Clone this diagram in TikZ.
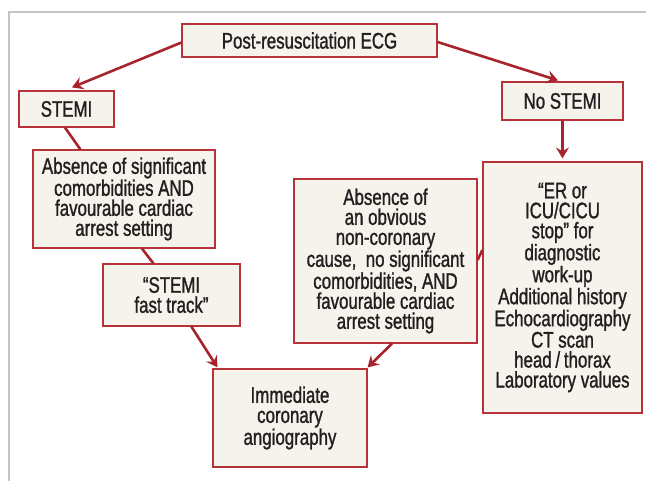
\documentclass[tikz,border=0pt]{standalone}
\usepackage{fontspec}
\setmainfont{Liberation Sans}[FakeStretch=0.75,FakeBold=1.2]
\usetikzlibrary{arrows.meta,calc}
\definecolor{boxfill}{HTML}{F5F4EC}
\definecolor{boxline}{HTML}{B8323A}
\definecolor{arrowc}{HTML}{A8242C}
\definecolor{framec}{HTML}{C4C4C4}
\definecolor{txt}{HTML}{231F20}
\begin{document}
\begin{tikzpicture}[x=1pt,y=-1pt,
  box/.style={draw=boxline, line width=1.2pt, fill=boxfill, inner sep=0pt,
    align=center, text=txt, font=\fontsize{22.5}{20}\selectfont},
  conn/.style={draw=arrowc, line width=2.6pt},
  arr/.style={conn, -{Stealth[length=11pt,width=13pt,inset=4pt]}}
]
\useasboundingbox (0,0) rectangle (646,481);
\draw[framec, line width=1.3pt] (646,12) -- (9,12) -- (9,481);

\node[box, minimum width=255pt, minimum height=33pt] (post) at (309.5,40.5) {Post-resuscitation ECG};
\node[box, minimum width=95pt, minimum height=36pt] (stemi) at (66.5,109) {STEMI};
\node[box, minimum width=121pt, minimum height=38pt] (nostemi) at (562.5,101) {No STEMI};
\node[box, minimum width=182pt, minimum height=98pt] (abs1) at (124,199)
  {Absence of significant\\comorbidities AND\\favourable cardiac\\arrest setting};
\node[box, minimum width=137pt, minimum height=62pt] (fast) at (171.5,295)
  {“STEMI\\fast track”};
\node[box, minimum width=183pt, minimum height=164pt] (abs2) at (385.5,261)
  {Absence of\\an obvious\\non-coronary\\cause, \ no significant\\comorbidities, AND\\favourable cardiac\\arrest setting};
\node[box, minimum width=159pt, minimum height=251pt] (er) at (562.5,287.5)
  {“ER or\\ICU/CICU\\stop” for\\diagnostic\\work-up\\Additional history\\Echocardiography\\CT scan\\head\,/\,thorax\\Laboratory values};
\node[box, minimum width=154pt, minimum height=98pt] (imm) at (290,418)
  {Immediate\\coronary\\angiography};

\draw[arr] ($(post.west)+(0,2)$) -- ($(stemi.north)+(5.5,-3)$);
\draw[arr] ($(post.east)+(0,1.5)$) -- ($(nostemi.north)+(-4.5,-1)$);
\draw[conn] ($(stemi.south)+(-1.5,0)$) -- ($(abs1.north west)+(48,0)$);
\draw[conn] ($(abs1.south)+(18,0)$) -- ($(fast.north west)+(51,0)$);
\draw[arr] ($(fast.south west)+(89,0)$) -- ($(imm.north west)+(5,-1)$);
\draw[arr] (nostemi.south) -- ($(er.north)+(0,-3)$);
\draw[conn] ($(er.west)+(0,-37.5)$) -- ($(abs2.east)+(0,-1)$);
\draw[arr] ($(abs2.south)+(6.5,0)$) -- ($(imm.north east)+(0,-1)$);
\end{tikzpicture}
\end{document}
